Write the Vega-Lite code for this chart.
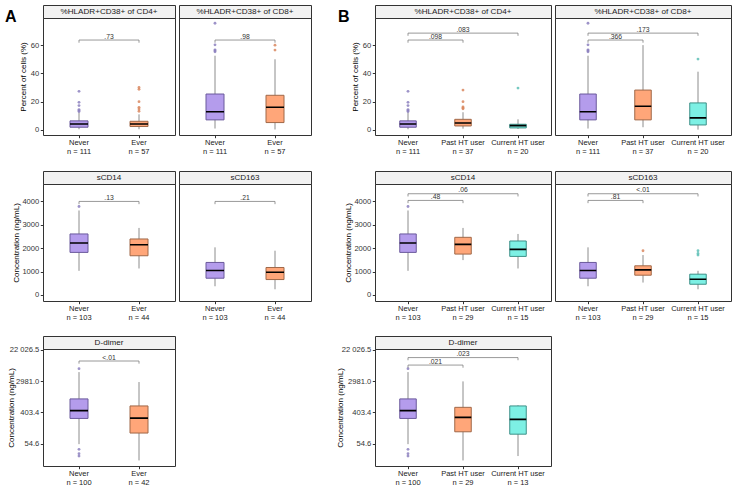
{
  "$schema": "https://vega.github.io/schema/vega-lite/v6.json",
  "padding": {"left": 4, "top": 4, "right": 5, "bottom": 2},
  "background": "white",
  "config": {
    "font": "Liberation Sans",
    "view": {"stroke": "#333333", "strokeWidth": 1},
    "axis": {"grid": false, "domain": false, "tickColor": "#333333", "tickSize": 2.7, "labelFontSize": 7.6, "labelColor": "#333333", "labelOverlap": false, "titleFontSize": 8, "titleFontWeight": "normal", "titleColor": "#000000", "labelPadding": 1.5, "titlePadding": 3},
    "axisX": {"labelFontSize": 7.5, "labelAngle": 0, "labelLineHeight": 9.3, "labelBaseline": "top", "labelPadding": 0.8, "labelColor": "#222222"},
    "title": {"fontSize": 16, "fontWeight": "bold", "color": "#000000"}
  },
  "datasets": {
    "boxes": [
      {"panel": "A_CD4", "group": "Never", "lo": 0.5, "q1": 1.9, "med": 4.2, "q3": 6.4, "hi": 12.5},
      {"panel": "A_CD4", "group": "Ever", "lo": 0.5, "q1": 2.4, "med": 4.2, "q3": 6.1, "hi": 11.0},
      {"panel": "A_CD8", "group": "Never", "lo": 1.0, "q1": 7.1, "med": 12.9, "q3": 25.4, "hi": 52.5},
      {"panel": "A_CD8", "group": "Ever", "lo": 0.3, "q1": 5.2, "med": 16.0, "q3": 24.5, "hi": 50.0},
      {"panel": "B_CD4", "group": "Never", "lo": 0.5, "q1": 1.9, "med": 4.2, "q3": 6.4, "hi": 12.5},
      {"panel": "B_CD4", "group": "Past HT user", "lo": 0.9, "q1": 2.8, "med": 4.9, "q3": 7.5, "hi": 12.5},
      {"panel": "B_CD4", "group": "Current HT user", "lo": 0.7, "q1": 1.4, "med": 3.0, "q3": 4.0, "hi": 7.5},
      {"panel": "B_CD8", "group": "Never", "lo": 1.0, "q1": 7.1, "med": 12.9, "q3": 25.4, "hi": 52.5},
      {"panel": "B_CD8", "group": "Past HT user", "lo": 1.9, "q1": 7.1, "med": 16.7, "q3": 28.2, "hi": 60.0},
      {"panel": "B_CD8", "group": "Current HT user", "lo": 0.2, "q1": 3.5, "med": 8.5, "q3": 19.1, "hi": 41.2},
      {"panel": "A_sCD14", "group": "Never", "lo": 1029, "q1": 1814, "med": 2214, "q3": 2600, "hi": 3600},
      {"panel": "A_sCD14", "group": "Ever", "lo": 1129, "q1": 1671, "med": 2143, "q3": 2386, "hi": 2857},
      {"panel": "A_sCD163", "group": "Never", "lo": 371, "q1": 714, "med": 1043, "q3": 1386, "hi": 2029},
      {"panel": "A_sCD163", "group": "Ever", "lo": 243, "q1": 657, "med": 971, "q3": 1171, "hi": 1886},
      {"panel": "B_sCD14", "group": "Never", "lo": 1029, "q1": 1814, "med": 2214, "q3": 2600, "hi": 3600},
      {"panel": "B_sCD14", "group": "Past HT user", "lo": 1486, "q1": 1743, "med": 2157, "q3": 2457, "hi": 2857},
      {"panel": "B_sCD14", "group": "Current HT user", "lo": 1129, "q1": 1643, "med": 1943, "q3": 2300, "hi": 2600},
      {"panel": "B_sCD163", "group": "Never", "lo": 371, "q1": 714, "med": 1043, "q3": 1386, "hi": 2029},
      {"panel": "B_sCD163", "group": "Past HT user", "lo": 529, "q1": 843, "med": 1071, "q3": 1243, "hi": 1700},
      {"panel": "B_sCD163", "group": "Current HT user", "lo": 243, "q1": 457, "med": 671, "q3": 886, "hi": 1029},
      {"panel": "A_DD", "group": "Never", "lo": 52.5, "q1": 273, "med": 450, "q3": 954, "hi": 5320},
      {"panel": "A_DD", "group": "Ever", "lo": 18.5, "q1": 107, "med": 279, "q3": 608, "hi": 2810},
      {"panel": "B_DD", "group": "Never", "lo": 52.5, "q1": 273, "med": 450, "q3": 954, "hi": 5320},
      {"panel": "B_DD", "group": "Past HT user", "lo": 18.5, "q1": 116, "med": 293, "q3": 556, "hi": 2930},
      {"panel": "B_DD", "group": "Current HT user", "lo": 24.5, "q1": 99.5, "med": 257, "q3": 608, "hi": 635}
    ],
    "outliers": [
      {"panel": "A_CD4", "group": "Never", "value": 27.3},
      {"panel": "A_CD4", "group": "Never", "value": 19.5},
      {"panel": "A_CD4", "group": "Never", "value": 17.2},
      {"panel": "A_CD4", "group": "Never", "value": 14.4},
      {"panel": "A_CD4", "group": "Never", "value": 13.7},
      {"panel": "A_CD4", "group": "Never", "value": 13.0},
      {"panel": "A_CD4", "group": "Ever", "value": 30.0},
      {"panel": "A_CD4", "group": "Ever", "value": 28.7},
      {"panel": "A_CD4", "group": "Ever", "value": 20.0},
      {"panel": "A_CD4", "group": "Ever", "value": 16.0},
      {"panel": "A_CD4", "group": "Ever", "value": 14.8},
      {"panel": "A_CD4", "group": "Ever", "value": 13.2},
      {"panel": "A_CD8", "group": "Never", "value": 75.5},
      {"panel": "A_CD8", "group": "Never", "value": 60.2},
      {"panel": "A_CD8", "group": "Never", "value": 56.7},
      {"panel": "A_CD8", "group": "Never", "value": 56.0},
      {"panel": "A_CD8", "group": "Never", "value": 55.3},
      {"panel": "A_CD8", "group": "Ever", "value": 60.0},
      {"panel": "A_CD8", "group": "Ever", "value": 56.5},
      {"panel": "B_CD4", "group": "Never", "value": 27.3},
      {"panel": "B_CD4", "group": "Never", "value": 19.5},
      {"panel": "B_CD4", "group": "Never", "value": 17.2},
      {"panel": "B_CD4", "group": "Never", "value": 14.4},
      {"panel": "B_CD4", "group": "Never", "value": 13.7},
      {"panel": "B_CD4", "group": "Never", "value": 13.0},
      {"panel": "B_CD4", "group": "Past HT user", "value": 28.2},
      {"panel": "B_CD4", "group": "Past HT user", "value": 20.0},
      {"panel": "B_CD4", "group": "Past HT user", "value": 16.2},
      {"panel": "B_CD4", "group": "Past HT user", "value": 15.5},
      {"panel": "B_CD4", "group": "Past HT user", "value": 15.0},
      {"panel": "B_CD4", "group": "Current HT user", "value": 29.6},
      {"panel": "B_CD8", "group": "Never", "value": 75.5},
      {"panel": "B_CD8", "group": "Never", "value": 60.2},
      {"panel": "B_CD8", "group": "Never", "value": 56.7},
      {"panel": "B_CD8", "group": "Never", "value": 56.0},
      {"panel": "B_CD8", "group": "Never", "value": 55.3},
      {"panel": "B_CD8", "group": "Current HT user", "value": 50.1},
      {"panel": "A_sCD14", "group": "Never", "value": 3771},
      {"panel": "B_sCD14", "group": "Never", "value": 3771},
      {"panel": "B_sCD163", "group": "Past HT user", "value": 1886},
      {"panel": "B_sCD163", "group": "Current HT user", "value": 1886},
      {"panel": "B_sCD163", "group": "Current HT user", "value": 1771},
      {"panel": "B_sCD163", "group": "Current HT user", "value": 1700},
      {"panel": "A_DD", "group": "Never", "value": 6634},
      {"panel": "A_DD", "group": "Never", "value": 37.7},
      {"panel": "A_DD", "group": "Never", "value": 28.5},
      {"panel": "A_DD", "group": "Never", "value": 24.5},
      {"panel": "B_DD", "group": "Never", "value": 6634},
      {"panel": "B_DD", "group": "Never", "value": 37.7},
      {"panel": "B_DD", "group": "Never", "value": 28.5},
      {"panel": "B_DD", "group": "Never", "value": 24.5}
    ],
    "brackets": [
      {"panel": "A_CD4", "group": "Never", "group2": "Ever", "mid": "m1", "y": 63.6, "ytip": 61.7, "label": ".73"},
      {"panel": "A_CD8", "group": "Never", "group2": "Ever", "mid": "m1", "y": 63.6, "ytip": 61.7, "label": ".98"},
      {"panel": "B_CD4", "group": "Never", "group2": "Past HT user", "mid": "m1", "y": 63.6, "ytip": 61.7, "label": ".098"},
      {"panel": "B_CD4", "group": "Never", "group2": "Current HT user", "mid": "Past HT user", "y": 68.5, "ytip": 66.6, "label": ".083"},
      {"panel": "B_CD8", "group": "Never", "group2": "Past HT user", "mid": "m1", "y": 63.6, "ytip": 61.7, "label": ".366"},
      {"panel": "B_CD8", "group": "Never", "group2": "Current HT user", "mid": "Past HT user", "y": 68.5, "ytip": 66.6, "label": ".173"},
      {"panel": "A_sCD14", "group": "Never", "group2": "Ever", "mid": "m1", "y": 3986, "ytip": 3870, "label": ".13"},
      {"panel": "A_sCD163", "group": "Never", "group2": "Ever", "mid": "m1", "y": 3986, "ytip": 3870, "label": ".21"},
      {"panel": "B_sCD14", "group": "Never", "group2": "Past HT user", "mid": "m1", "y": 4029, "ytip": 3913, "label": ".48"},
      {"panel": "B_sCD14", "group": "Never", "group2": "Current HT user", "mid": "Past HT user", "y": 4314, "ytip": 4198, "label": ".06"},
      {"panel": "B_sCD163", "group": "Never", "group2": "Past HT user", "mid": "m1", "y": 4029, "ytip": 3913, "label": ".81"},
      {"panel": "B_sCD163", "group": "Never", "group2": "Current HT user", "mid": "Past HT user", "y": 4314, "ytip": 4198, "label": "<.01"},
      {"panel": "A_DD", "group": "Never", "group2": "Ever", "mid": "m1", "y": 10830, "ytip": 9140, "label": "<.01"},
      {"panel": "B_DD", "group": "Never", "group2": "Past HT user", "mid": "m1", "y": 8350, "ytip": 7040, "label": ".021"},
      {"panel": "B_DD", "group": "Never", "group2": "Current HT user", "mid": "Past HT user", "y": 13490, "ytip": 11380, "label": ".023"}
    ]
  },
  "columns": 5,
  "spacing": {"row": 0, "column": 4},
  "align": "each",
  "bounds": "flush",
  "concat": [
    {"width": 132, "height": 13, "data": {"values": [{"label": "%HLADR+CD38+ of CD4+"}]}, "mark": {"type": "text", "fontSize": 8.1, "color": "#1A1A1A"}, "encoding": {"text": {"field": "label"}}, "view": {"fill": "#F2F2F2", "stroke": "#333333"},
     "title": {"text": "A", "anchor": "start", "frame": "group", "orient": "top", "offset": 0, "dx": -38, "dy": 33, "baseline": "alphabetic"}},
    {"width": 132, "height": 13, "data": {"values": [{"label": "%HLADR+CD38+ of CD8+"}]}, "mark": {"type": "text", "fontSize": 8.1, "color": "#1A1A1A"}, "encoding": {"text": {"field": "label"}}, "view": {"fill": "#F2F2F2", "stroke": "#333333"}},
    {"width": 56, "height": 1, "data": {"values": []}, "mark": "point", "view": {"stroke": null}},
    {"width": 176, "height": 13, "data": {"values": [{"label": "%HLADR+CD38+ of CD4+"}]}, "mark": {"type": "text", "fontSize": 8.1, "color": "#1A1A1A"}, "encoding": {"text": {"field": "label"}}, "view": {"fill": "#F2F2F2", "stroke": "#333333"},
     "title": {"text": "B", "anchor": "start", "frame": "group", "orient": "top", "offset": 0, "dx": -37, "dy": 33, "baseline": "alphabetic"}},
    {"width": 176, "height": 13, "data": {"values": [{"label": "%HLADR+CD38+ of CD8+"}]}, "mark": {"type": "text", "fontSize": 8.1, "color": "#1A1A1A"}, "encoding": {"text": {"field": "label"}}, "view": {"fill": "#F2F2F2", "stroke": "#333333"}},

    {"width": 132, "height": 117, "layer": [
      {"data": {"name": "boxes"}, "transform": [{"filter": "datum.panel == 'A_CD4'"}], "mark": {"type": "rule", "color": "#7F7F7F", "strokeWidth": 0.9},
       "encoding": {"x": {"field": "group", "type": "nominal", "title": null, "scale": {"domain": ["Never", "m1", "Ever"], "paddingInner": 0.4, "paddingOuter": 0.9}, "axis": {"values": ["Never", "Ever"], "labelExpr": "[datum.value, datum.value == 'Never' ? 'n = 111' : 'n = 57']"}},
                    "y": {"field": "lo", "type": "quantitative", "title": "Percent of cells (%)", "scale": {"domain": [-3.6, 79.2], "nice": false, "zero": false}, "axis": {"values": [0, 20, 40, 60], "labelOverlap": false, "tickCount": 4}}, "y2": {"field": "hi"}}},
      {"data": {"name": "boxes"}, "transform": [{"filter": "datum.panel == 'A_CD4'"}], "mark": {"type": "bar", "strokeWidth": 1},
       "encoding": {"x": {"field": "group", "type": "nominal", "title": null}, "y": {"field": "q1", "type": "quantitative"}, "y2": {"field": "q3"},
                    "fill": {"field": "group", "type": "nominal", "legend": null, "scale": {"domain": ["Never", "Ever", "Past HT user", "Current HT user"], "range": ["#B49CEC", "#FFA679", "#FFA679", "#7DF0E4"]}},
                    "stroke": {"field": "group", "type": "nominal", "legend": null, "scale": {"domain": ["Never", "Ever", "Past HT user", "Current HT user"], "range": ["#6B5A9C", "#A06848", "#A06848", "#3E9088"]}}}},
      {"data": {"name": "boxes"}, "transform": [{"filter": "datum.panel == 'A_CD4'"}], "mark": {"type": "bar", "fillOpacity": 0, "stroke": "#000000", "strokeWidth": 1.6},
       "encoding": {"x": {"field": "group", "type": "nominal", "title": null}, "y": {"field": "med", "type": "quantitative"}, "y2": {"field": "med"}}},
      {"data": {"name": "outliers"}, "transform": [{"filter": "datum.panel == 'A_CD4'"}], "mark": {"type": "point", "filled": true, "size": 8, "opacity": 0.85},
       "encoding": {"x": {"field": "group", "type": "nominal", "title": null}, "y": {"field": "value", "type": "quantitative"},
                    "color": {"field": "group", "type": "nominal", "legend": null, "scale": {"domain": ["Never", "Ever", "Past HT user", "Current HT user"], "range": ["#8C80BE", "#D9875F", "#D9875F", "#5EC0B6"]}}}},
      {"data": {"name": "brackets"}, "transform": [{"filter": "datum.panel == 'A_CD4'"}], "mark": {"type": "rule", "color": "#7F7F7F", "strokeWidth": 0.8},
       "encoding": {"x": {"field": "group", "type": "nominal", "title": null}, "x2": {"field": "group2"}, "y": {"field": "y", "type": "quantitative"}}},
      {"data": {"name": "brackets"}, "transform": [{"filter": "datum.panel == 'A_CD4'"}], "mark": {"type": "rule", "color": "#7F7F7F", "strokeWidth": 0.8},
       "encoding": {"x": {"field": "group", "type": "nominal", "title": null}, "y": {"field": "y", "type": "quantitative"}, "y2": {"field": "ytip"}}},
      {"data": {"name": "brackets"}, "transform": [{"filter": "datum.panel == 'A_CD4'"}], "mark": {"type": "rule", "color": "#7F7F7F", "strokeWidth": 0.8},
       "encoding": {"x": {"field": "group2", "type": "nominal", "title": null}, "y": {"field": "y", "type": "quantitative"}, "y2": {"field": "ytip"}}},
      {"data": {"name": "brackets"}, "transform": [{"filter": "datum.panel == 'A_CD4'"}], "mark": {"type": "text", "fontSize": 6.8, "color": "#333333", "baseline": "bottom", "dy": -0.5},
       "encoding": {"x": {"field": "mid", "type": "nominal", "title": null}, "y": {"field": "y", "type": "quantitative"}, "text": {"field": "label"}}}
    ]},
    {"width": 132, "height": 117, "layer": [
      {"data": {"name": "boxes"}, "transform": [{"filter": "datum.panel == 'A_CD8'"}], "mark": {"type": "rule", "color": "#7F7F7F", "strokeWidth": 0.9},
       "encoding": {"x": {"field": "group", "type": "nominal", "title": null, "scale": {"domain": ["Never", "m1", "Ever"], "paddingInner": 0.4, "paddingOuter": 0.9}, "axis": {"values": ["Never", "Ever"], "labelExpr": "[datum.value, datum.value == 'Never' ? 'n = 111' : 'n = 57']"}},
                    "y": {"field": "lo", "type": "quantitative", "scale": {"domain": [-3.6, 79.2], "nice": false, "zero": false}, "axis": null}, "y2": {"field": "hi"}}},
      {"data": {"name": "boxes"}, "transform": [{"filter": "datum.panel == 'A_CD8'"}], "mark": {"type": "bar", "strokeWidth": 1},
       "encoding": {"x": {"field": "group", "type": "nominal", "title": null}, "y": {"field": "q1", "type": "quantitative", "axis": null}, "y2": {"field": "q3"},
                    "fill": {"field": "group", "type": "nominal", "legend": null, "scale": {"domain": ["Never", "Ever", "Past HT user", "Current HT user"], "range": ["#B49CEC", "#FFA679", "#FFA679", "#7DF0E4"]}},
                    "stroke": {"field": "group", "type": "nominal", "legend": null, "scale": {"domain": ["Never", "Ever", "Past HT user", "Current HT user"], "range": ["#6B5A9C", "#A06848", "#A06848", "#3E9088"]}}}},
      {"data": {"name": "boxes"}, "transform": [{"filter": "datum.panel == 'A_CD8'"}], "mark": {"type": "bar", "fillOpacity": 0, "stroke": "#000000", "strokeWidth": 1.6},
       "encoding": {"x": {"field": "group", "type": "nominal", "title": null}, "y": {"field": "med", "type": "quantitative", "axis": null}, "y2": {"field": "med"}}},
      {"data": {"name": "outliers"}, "transform": [{"filter": "datum.panel == 'A_CD8'"}], "mark": {"type": "point", "filled": true, "size": 8, "opacity": 0.85},
       "encoding": {"x": {"field": "group", "type": "nominal", "title": null}, "y": {"field": "value", "type": "quantitative", "axis": null},
                    "color": {"field": "group", "type": "nominal", "legend": null, "scale": {"domain": ["Never", "Ever", "Past HT user", "Current HT user"], "range": ["#8C80BE", "#D9875F", "#D9875F", "#5EC0B6"]}}}},
      {"data": {"name": "brackets"}, "transform": [{"filter": "datum.panel == 'A_CD8'"}], "mark": {"type": "rule", "color": "#7F7F7F", "strokeWidth": 0.8},
       "encoding": {"x": {"field": "group", "type": "nominal", "title": null}, "x2": {"field": "group2"}, "y": {"field": "y", "type": "quantitative", "axis": null}}},
      {"data": {"name": "brackets"}, "transform": [{"filter": "datum.panel == 'A_CD8'"}], "mark": {"type": "rule", "color": "#7F7F7F", "strokeWidth": 0.8},
       "encoding": {"x": {"field": "group", "type": "nominal", "title": null}, "y": {"field": "y", "type": "quantitative", "axis": null}, "y2": {"field": "ytip"}}},
      {"data": {"name": "brackets"}, "transform": [{"filter": "datum.panel == 'A_CD8'"}], "mark": {"type": "rule", "color": "#7F7F7F", "strokeWidth": 0.8},
       "encoding": {"x": {"field": "group2", "type": "nominal", "title": null}, "y": {"field": "y", "type": "quantitative", "axis": null}, "y2": {"field": "ytip"}}},
      {"data": {"name": "brackets"}, "transform": [{"filter": "datum.panel == 'A_CD8'"}], "mark": {"type": "text", "fontSize": 6.8, "color": "#333333", "baseline": "bottom", "dy": -0.5},
       "encoding": {"x": {"field": "mid", "type": "nominal", "title": null}, "y": {"field": "y", "type": "quantitative", "axis": null}, "text": {"field": "label"}}}
    ]},
    {"width": 1, "height": 1, "data": {"values": []}, "mark": "point", "view": {"stroke": null}},
    {"width": 176, "height": 117, "layer": [
      {"data": {"name": "boxes"}, "transform": [{"filter": "datum.panel == 'B_CD4'"}], "mark": {"type": "rule", "color": "#7F7F7F", "strokeWidth": 0.9},
       "encoding": {"x": {"field": "group", "type": "nominal", "title": null, "scale": {"domain": ["Never", "m1", "Past HT user", "m2", "Current HT user"], "paddingInner": 0.4, "paddingOuter": 0.9}, "axis": {"values": ["Never", "Past HT user", "Current HT user"], "labelExpr": "[datum.value, datum.value == 'Never' ? 'n = 111' : datum.value == 'Past HT user' ? 'n = 37' : 'n = 20']"}},
                    "y": {"field": "lo", "type": "quantitative", "title": "Percent of cells (%)", "scale": {"domain": [-3.6, 79.2], "nice": false, "zero": false}, "axis": {"values": [0, 20, 40, 60], "labelOverlap": false, "tickCount": 4}}, "y2": {"field": "hi"}}},
      {"data": {"name": "boxes"}, "transform": [{"filter": "datum.panel == 'B_CD4'"}], "mark": {"type": "bar", "strokeWidth": 1},
       "encoding": {"x": {"field": "group", "type": "nominal", "title": null}, "y": {"field": "q1", "type": "quantitative"}, "y2": {"field": "q3"},
                    "fill": {"field": "group", "type": "nominal", "legend": null, "scale": {"domain": ["Never", "Ever", "Past HT user", "Current HT user"], "range": ["#B49CEC", "#FFA679", "#FFA679", "#7DF0E4"]}},
                    "stroke": {"field": "group", "type": "nominal", "legend": null, "scale": {"domain": ["Never", "Ever", "Past HT user", "Current HT user"], "range": ["#6B5A9C", "#A06848", "#A06848", "#3E9088"]}}}},
      {"data": {"name": "boxes"}, "transform": [{"filter": "datum.panel == 'B_CD4'"}], "mark": {"type": "bar", "fillOpacity": 0, "stroke": "#000000", "strokeWidth": 1.6},
       "encoding": {"x": {"field": "group", "type": "nominal", "title": null}, "y": {"field": "med", "type": "quantitative"}, "y2": {"field": "med"}}},
      {"data": {"name": "outliers"}, "transform": [{"filter": "datum.panel == 'B_CD4'"}], "mark": {"type": "point", "filled": true, "size": 8, "opacity": 0.85},
       "encoding": {"x": {"field": "group", "type": "nominal", "title": null}, "y": {"field": "value", "type": "quantitative"},
                    "color": {"field": "group", "type": "nominal", "legend": null, "scale": {"domain": ["Never", "Ever", "Past HT user", "Current HT user"], "range": ["#8C80BE", "#D9875F", "#D9875F", "#5EC0B6"]}}}},
      {"data": {"name": "brackets"}, "transform": [{"filter": "datum.panel == 'B_CD4'"}], "mark": {"type": "rule", "color": "#7F7F7F", "strokeWidth": 0.8},
       "encoding": {"x": {"field": "group", "type": "nominal", "title": null}, "x2": {"field": "group2"}, "y": {"field": "y", "type": "quantitative"}}},
      {"data": {"name": "brackets"}, "transform": [{"filter": "datum.panel == 'B_CD4'"}], "mark": {"type": "rule", "color": "#7F7F7F", "strokeWidth": 0.8},
       "encoding": {"x": {"field": "group", "type": "nominal", "title": null}, "y": {"field": "y", "type": "quantitative"}, "y2": {"field": "ytip"}}},
      {"data": {"name": "brackets"}, "transform": [{"filter": "datum.panel == 'B_CD4'"}], "mark": {"type": "rule", "color": "#7F7F7F", "strokeWidth": 0.8},
       "encoding": {"x": {"field": "group2", "type": "nominal", "title": null}, "y": {"field": "y", "type": "quantitative"}, "y2": {"field": "ytip"}}},
      {"data": {"name": "brackets"}, "transform": [{"filter": "datum.panel == 'B_CD4'"}], "mark": {"type": "text", "fontSize": 6.8, "color": "#333333", "baseline": "bottom", "dy": -0.5},
       "encoding": {"x": {"field": "mid", "type": "nominal", "title": null}, "y": {"field": "y", "type": "quantitative"}, "text": {"field": "label"}}}
    ]},
    {"width": 176, "height": 117, "layer": [
      {"data": {"name": "boxes"}, "transform": [{"filter": "datum.panel == 'B_CD8'"}], "mark": {"type": "rule", "color": "#7F7F7F", "strokeWidth": 0.9},
       "encoding": {"x": {"field": "group", "type": "nominal", "title": null, "scale": {"domain": ["Never", "m1", "Past HT user", "m2", "Current HT user"], "paddingInner": 0.4, "paddingOuter": 0.9}, "axis": {"values": ["Never", "Past HT user", "Current HT user"], "labelExpr": "[datum.value, datum.value == 'Never' ? 'n = 111' : datum.value == 'Past HT user' ? 'n = 37' : 'n = 20']"}},
                    "y": {"field": "lo", "type": "quantitative", "scale": {"domain": [-3.6, 79.2], "nice": false, "zero": false}, "axis": null}, "y2": {"field": "hi"}}},
      {"data": {"name": "boxes"}, "transform": [{"filter": "datum.panel == 'B_CD8'"}], "mark": {"type": "bar", "strokeWidth": 1},
       "encoding": {"x": {"field": "group", "type": "nominal", "title": null}, "y": {"field": "q1", "type": "quantitative", "axis": null}, "y2": {"field": "q3"},
                    "fill": {"field": "group", "type": "nominal", "legend": null, "scale": {"domain": ["Never", "Ever", "Past HT user", "Current HT user"], "range": ["#B49CEC", "#FFA679", "#FFA679", "#7DF0E4"]}},
                    "stroke": {"field": "group", "type": "nominal", "legend": null, "scale": {"domain": ["Never", "Ever", "Past HT user", "Current HT user"], "range": ["#6B5A9C", "#A06848", "#A06848", "#3E9088"]}}}},
      {"data": {"name": "boxes"}, "transform": [{"filter": "datum.panel == 'B_CD8'"}], "mark": {"type": "bar", "fillOpacity": 0, "stroke": "#000000", "strokeWidth": 1.6},
       "encoding": {"x": {"field": "group", "type": "nominal", "title": null}, "y": {"field": "med", "type": "quantitative", "axis": null}, "y2": {"field": "med"}}},
      {"data": {"name": "outliers"}, "transform": [{"filter": "datum.panel == 'B_CD8'"}], "mark": {"type": "point", "filled": true, "size": 8, "opacity": 0.85},
       "encoding": {"x": {"field": "group", "type": "nominal", "title": null}, "y": {"field": "value", "type": "quantitative", "axis": null},
                    "color": {"field": "group", "type": "nominal", "legend": null, "scale": {"domain": ["Never", "Ever", "Past HT user", "Current HT user"], "range": ["#8C80BE", "#D9875F", "#D9875F", "#5EC0B6"]}}}},
      {"data": {"name": "brackets"}, "transform": [{"filter": "datum.panel == 'B_CD8'"}], "mark": {"type": "rule", "color": "#7F7F7F", "strokeWidth": 0.8},
       "encoding": {"x": {"field": "group", "type": "nominal", "title": null}, "x2": {"field": "group2"}, "y": {"field": "y", "type": "quantitative", "axis": null}}},
      {"data": {"name": "brackets"}, "transform": [{"filter": "datum.panel == 'B_CD8'"}], "mark": {"type": "rule", "color": "#7F7F7F", "strokeWidth": 0.8},
       "encoding": {"x": {"field": "group", "type": "nominal", "title": null}, "y": {"field": "y", "type": "quantitative", "axis": null}, "y2": {"field": "ytip"}}},
      {"data": {"name": "brackets"}, "transform": [{"filter": "datum.panel == 'B_CD8'"}], "mark": {"type": "rule", "color": "#7F7F7F", "strokeWidth": 0.8},
       "encoding": {"x": {"field": "group2", "type": "nominal", "title": null}, "y": {"field": "y", "type": "quantitative", "axis": null}, "y2": {"field": "ytip"}}},
      {"data": {"name": "brackets"}, "transform": [{"filter": "datum.panel == 'B_CD8'"}], "mark": {"type": "text", "fontSize": 6.8, "color": "#333333", "baseline": "bottom", "dy": -0.5},
       "encoding": {"x": {"field": "mid", "type": "nominal", "title": null}, "y": {"field": "y", "type": "quantitative", "axis": null}, "text": {"field": "label"}}}
    ]},

    {"width": 1, "height": 36, "data": {"values": []}, "mark": "point", "view": {"stroke": null}},
    {"width": 1, "height": 1, "data": {"values": []}, "mark": "point", "view": {"stroke": null}},
    {"width": 1, "height": 1, "data": {"values": []}, "mark": "point", "view": {"stroke": null}},
    {"width": 1, "height": 1, "data": {"values": []}, "mark": "point", "view": {"stroke": null}},
    {"width": 1, "height": 1, "data": {"values": []}, "mark": "point", "view": {"stroke": null}},

    {"width": 132, "height": 13, "data": {"values": [{"label": "sCD14"}]}, "mark": {"type": "text", "fontSize": 8.1, "color": "#1A1A1A"}, "encoding": {"text": {"field": "label"}}, "view": {"fill": "#F2F2F2", "stroke": "#333333"}},
    {"width": 132, "height": 13, "data": {"values": [{"label": "sCD163"}]}, "mark": {"type": "text", "fontSize": 8.1, "color": "#1A1A1A"}, "encoding": {"text": {"field": "label"}}, "view": {"fill": "#F2F2F2", "stroke": "#333333"}},
    {"width": 1, "height": 1, "data": {"values": []}, "mark": "point", "view": {"stroke": null}},
    {"width": 176, "height": 13, "data": {"values": [{"label": "sCD14"}]}, "mark": {"type": "text", "fontSize": 8.1, "color": "#1A1A1A"}, "encoding": {"text": {"field": "label"}}, "view": {"fill": "#F2F2F2", "stroke": "#333333"}},
    {"width": 176, "height": 13, "data": {"values": [{"label": "sCD163"}]}, "mark": {"type": "text", "fontSize": 8.1, "color": "#1A1A1A"}, "encoding": {"text": {"field": "label"}}, "view": {"fill": "#F2F2F2", "stroke": "#333333"}},

    {"width": 132, "height": 117, "layer": [
      {"data": {"name": "boxes"}, "transform": [{"filter": "datum.panel == 'A_sCD14'"}], "mark": {"type": "rule", "color": "#7F7F7F", "strokeWidth": 0.9},
       "encoding": {"x": {"field": "group", "type": "nominal", "title": null, "scale": {"domain": ["Never", "m1", "Ever"], "paddingInner": 0.4, "paddingOuter": 0.9}, "axis": {"values": ["Never", "Ever"], "labelExpr": "[datum.value, datum.value == 'Never' ? 'n = 103' : 'n = 44']"}},
                    "y": {"field": "lo", "type": "quantitative", "title": "Concentration (ng/mL)", "scale": {"domain": [-257, 4729], "nice": false, "zero": false}, "axis": {"values": [0, 1000, 2000, 3000, 4000], "format": "d", "labelOverlap": false, "tickCount": 5, "titleX": -23, "titleY": 58.5}}, "y2": {"field": "hi"}}},
      {"data": {"name": "boxes"}, "transform": [{"filter": "datum.panel == 'A_sCD14'"}], "mark": {"type": "bar", "strokeWidth": 1},
       "encoding": {"x": {"field": "group", "type": "nominal", "title": null}, "y": {"field": "q1", "type": "quantitative"}, "y2": {"field": "q3"},
                    "fill": {"field": "group", "type": "nominal", "legend": null, "scale": {"domain": ["Never", "Ever", "Past HT user", "Current HT user"], "range": ["#B49CEC", "#FFA679", "#FFA679", "#7DF0E4"]}},
                    "stroke": {"field": "group", "type": "nominal", "legend": null, "scale": {"domain": ["Never", "Ever", "Past HT user", "Current HT user"], "range": ["#6B5A9C", "#A06848", "#A06848", "#3E9088"]}}}},
      {"data": {"name": "boxes"}, "transform": [{"filter": "datum.panel == 'A_sCD14'"}], "mark": {"type": "bar", "fillOpacity": 0, "stroke": "#000000", "strokeWidth": 1.6},
       "encoding": {"x": {"field": "group", "type": "nominal", "title": null}, "y": {"field": "med", "type": "quantitative"}, "y2": {"field": "med"}}},
      {"data": {"name": "outliers"}, "transform": [{"filter": "datum.panel == 'A_sCD14'"}], "mark": {"type": "point", "filled": true, "size": 8, "opacity": 0.85},
       "encoding": {"x": {"field": "group", "type": "nominal", "title": null}, "y": {"field": "value", "type": "quantitative"},
                    "color": {"field": "group", "type": "nominal", "legend": null, "scale": {"domain": ["Never", "Ever", "Past HT user", "Current HT user"], "range": ["#8C80BE", "#D9875F", "#D9875F", "#5EC0B6"]}}}},
      {"data": {"name": "brackets"}, "transform": [{"filter": "datum.panel == 'A_sCD14'"}], "mark": {"type": "rule", "color": "#7F7F7F", "strokeWidth": 0.8},
       "encoding": {"x": {"field": "group", "type": "nominal", "title": null}, "x2": {"field": "group2"}, "y": {"field": "y", "type": "quantitative"}}},
      {"data": {"name": "brackets"}, "transform": [{"filter": "datum.panel == 'A_sCD14'"}], "mark": {"type": "rule", "color": "#7F7F7F", "strokeWidth": 0.8},
       "encoding": {"x": {"field": "group", "type": "nominal", "title": null}, "y": {"field": "y", "type": "quantitative"}, "y2": {"field": "ytip"}}},
      {"data": {"name": "brackets"}, "transform": [{"filter": "datum.panel == 'A_sCD14'"}], "mark": {"type": "rule", "color": "#7F7F7F", "strokeWidth": 0.8},
       "encoding": {"x": {"field": "group2", "type": "nominal", "title": null}, "y": {"field": "y", "type": "quantitative"}, "y2": {"field": "ytip"}}},
      {"data": {"name": "brackets"}, "transform": [{"filter": "datum.panel == 'A_sCD14'"}], "mark": {"type": "text", "fontSize": 6.8, "color": "#333333", "baseline": "bottom", "dy": -0.5},
       "encoding": {"x": {"field": "mid", "type": "nominal", "title": null}, "y": {"field": "y", "type": "quantitative"}, "text": {"field": "label"}}}
    ]},
    {"width": 132, "height": 117, "layer": [
      {"data": {"name": "boxes"}, "transform": [{"filter": "datum.panel == 'A_sCD163'"}], "mark": {"type": "rule", "color": "#7F7F7F", "strokeWidth": 0.9},
       "encoding": {"x": {"field": "group", "type": "nominal", "title": null, "scale": {"domain": ["Never", "m1", "Ever"], "paddingInner": 0.4, "paddingOuter": 0.9}, "axis": {"values": ["Never", "Ever"], "labelExpr": "[datum.value, datum.value == 'Never' ? 'n = 103' : 'n = 44']"}},
                    "y": {"field": "lo", "type": "quantitative", "scale": {"domain": [-257, 4729], "nice": false, "zero": false}, "axis": null}, "y2": {"field": "hi"}}},
      {"data": {"name": "boxes"}, "transform": [{"filter": "datum.panel == 'A_sCD163'"}], "mark": {"type": "bar", "strokeWidth": 1},
       "encoding": {"x": {"field": "group", "type": "nominal", "title": null}, "y": {"field": "q1", "type": "quantitative", "axis": null}, "y2": {"field": "q3"},
                    "fill": {"field": "group", "type": "nominal", "legend": null, "scale": {"domain": ["Never", "Ever", "Past HT user", "Current HT user"], "range": ["#B49CEC", "#FFA679", "#FFA679", "#7DF0E4"]}},
                    "stroke": {"field": "group", "type": "nominal", "legend": null, "scale": {"domain": ["Never", "Ever", "Past HT user", "Current HT user"], "range": ["#6B5A9C", "#A06848", "#A06848", "#3E9088"]}}}},
      {"data": {"name": "boxes"}, "transform": [{"filter": "datum.panel == 'A_sCD163'"}], "mark": {"type": "bar", "fillOpacity": 0, "stroke": "#000000", "strokeWidth": 1.6},
       "encoding": {"x": {"field": "group", "type": "nominal", "title": null}, "y": {"field": "med", "type": "quantitative", "axis": null}, "y2": {"field": "med"}}},
      {"data": {"name": "brackets"}, "transform": [{"filter": "datum.panel == 'A_sCD163'"}], "mark": {"type": "rule", "color": "#7F7F7F", "strokeWidth": 0.8},
       "encoding": {"x": {"field": "group", "type": "nominal", "title": null}, "x2": {"field": "group2"}, "y": {"field": "y", "type": "quantitative", "axis": null}}},
      {"data": {"name": "brackets"}, "transform": [{"filter": "datum.panel == 'A_sCD163'"}], "mark": {"type": "rule", "color": "#7F7F7F", "strokeWidth": 0.8},
       "encoding": {"x": {"field": "group", "type": "nominal", "title": null}, "y": {"field": "y", "type": "quantitative", "axis": null}, "y2": {"field": "ytip"}}},
      {"data": {"name": "brackets"}, "transform": [{"filter": "datum.panel == 'A_sCD163'"}], "mark": {"type": "rule", "color": "#7F7F7F", "strokeWidth": 0.8},
       "encoding": {"x": {"field": "group2", "type": "nominal", "title": null}, "y": {"field": "y", "type": "quantitative", "axis": null}, "y2": {"field": "ytip"}}},
      {"data": {"name": "brackets"}, "transform": [{"filter": "datum.panel == 'A_sCD163'"}], "mark": {"type": "text", "fontSize": 6.8, "color": "#333333", "baseline": "bottom", "dy": -0.5},
       "encoding": {"x": {"field": "mid", "type": "nominal", "title": null}, "y": {"field": "y", "type": "quantitative", "axis": null}, "text": {"field": "label"}}}
    ]},
    {"width": 1, "height": 1, "data": {"values": []}, "mark": "point", "view": {"stroke": null}},
    {"width": 176, "height": 117, "layer": [
      {"data": {"name": "boxes"}, "transform": [{"filter": "datum.panel == 'B_sCD14'"}], "mark": {"type": "rule", "color": "#7F7F7F", "strokeWidth": 0.9},
       "encoding": {"x": {"field": "group", "type": "nominal", "title": null, "scale": {"domain": ["Never", "m1", "Past HT user", "m2", "Current HT user"], "paddingInner": 0.4, "paddingOuter": 0.9}, "axis": {"values": ["Never", "Past HT user", "Current HT user"], "labelExpr": "[datum.value, datum.value == 'Never' ? 'n = 103' : datum.value == 'Past HT user' ? 'n = 29' : 'n = 15']"}},
                    "y": {"field": "lo", "type": "quantitative", "title": "Concentration (ng/mL)", "scale": {"domain": [-257, 4729], "nice": false, "zero": false}, "axis": {"values": [0, 1000, 2000, 3000, 4000], "format": "d", "labelOverlap": false, "tickCount": 5, "titleX": -23, "titleY": 58.5}}, "y2": {"field": "hi"}}},
      {"data": {"name": "boxes"}, "transform": [{"filter": "datum.panel == 'B_sCD14'"}], "mark": {"type": "bar", "strokeWidth": 1},
       "encoding": {"x": {"field": "group", "type": "nominal", "title": null}, "y": {"field": "q1", "type": "quantitative"}, "y2": {"field": "q3"},
                    "fill": {"field": "group", "type": "nominal", "legend": null, "scale": {"domain": ["Never", "Ever", "Past HT user", "Current HT user"], "range": ["#B49CEC", "#FFA679", "#FFA679", "#7DF0E4"]}},
                    "stroke": {"field": "group", "type": "nominal", "legend": null, "scale": {"domain": ["Never", "Ever", "Past HT user", "Current HT user"], "range": ["#6B5A9C", "#A06848", "#A06848", "#3E9088"]}}}},
      {"data": {"name": "boxes"}, "transform": [{"filter": "datum.panel == 'B_sCD14'"}], "mark": {"type": "bar", "fillOpacity": 0, "stroke": "#000000", "strokeWidth": 1.6},
       "encoding": {"x": {"field": "group", "type": "nominal", "title": null}, "y": {"field": "med", "type": "quantitative"}, "y2": {"field": "med"}}},
      {"data": {"name": "outliers"}, "transform": [{"filter": "datum.panel == 'B_sCD14'"}], "mark": {"type": "point", "filled": true, "size": 8, "opacity": 0.85},
       "encoding": {"x": {"field": "group", "type": "nominal", "title": null}, "y": {"field": "value", "type": "quantitative"},
                    "color": {"field": "group", "type": "nominal", "legend": null, "scale": {"domain": ["Never", "Ever", "Past HT user", "Current HT user"], "range": ["#8C80BE", "#D9875F", "#D9875F", "#5EC0B6"]}}}},
      {"data": {"name": "brackets"}, "transform": [{"filter": "datum.panel == 'B_sCD14'"}], "mark": {"type": "rule", "color": "#7F7F7F", "strokeWidth": 0.8},
       "encoding": {"x": {"field": "group", "type": "nominal", "title": null}, "x2": {"field": "group2"}, "y": {"field": "y", "type": "quantitative"}}},
      {"data": {"name": "brackets"}, "transform": [{"filter": "datum.panel == 'B_sCD14'"}], "mark": {"type": "rule", "color": "#7F7F7F", "strokeWidth": 0.8},
       "encoding": {"x": {"field": "group", "type": "nominal", "title": null}, "y": {"field": "y", "type": "quantitative"}, "y2": {"field": "ytip"}}},
      {"data": {"name": "brackets"}, "transform": [{"filter": "datum.panel == 'B_sCD14'"}], "mark": {"type": "rule", "color": "#7F7F7F", "strokeWidth": 0.8},
       "encoding": {"x": {"field": "group2", "type": "nominal", "title": null}, "y": {"field": "y", "type": "quantitative"}, "y2": {"field": "ytip"}}},
      {"data": {"name": "brackets"}, "transform": [{"filter": "datum.panel == 'B_sCD14'"}], "mark": {"type": "text", "fontSize": 6.8, "color": "#333333", "baseline": "bottom", "dy": -0.5},
       "encoding": {"x": {"field": "mid", "type": "nominal", "title": null}, "y": {"field": "y", "type": "quantitative"}, "text": {"field": "label"}}}
    ]},
    {"width": 176, "height": 117, "layer": [
      {"data": {"name": "boxes"}, "transform": [{"filter": "datum.panel == 'B_sCD163'"}], "mark": {"type": "rule", "color": "#7F7F7F", "strokeWidth": 0.9},
       "encoding": {"x": {"field": "group", "type": "nominal", "title": null, "scale": {"domain": ["Never", "m1", "Past HT user", "m2", "Current HT user"], "paddingInner": 0.4, "paddingOuter": 0.9}, "axis": {"values": ["Never", "Past HT user", "Current HT user"], "labelExpr": "[datum.value, datum.value == 'Never' ? 'n = 103' : datum.value == 'Past HT user' ? 'n = 29' : 'n = 15']"}},
                    "y": {"field": "lo", "type": "quantitative", "scale": {"domain": [-257, 4729], "nice": false, "zero": false}, "axis": null}, "y2": {"field": "hi"}}},
      {"data": {"name": "boxes"}, "transform": [{"filter": "datum.panel == 'B_sCD163'"}], "mark": {"type": "bar", "strokeWidth": 1},
       "encoding": {"x": {"field": "group", "type": "nominal", "title": null}, "y": {"field": "q1", "type": "quantitative", "axis": null}, "y2": {"field": "q3"},
                    "fill": {"field": "group", "type": "nominal", "legend": null, "scale": {"domain": ["Never", "Ever", "Past HT user", "Current HT user"], "range": ["#B49CEC", "#FFA679", "#FFA679", "#7DF0E4"]}},
                    "stroke": {"field": "group", "type": "nominal", "legend": null, "scale": {"domain": ["Never", "Ever", "Past HT user", "Current HT user"], "range": ["#6B5A9C", "#A06848", "#A06848", "#3E9088"]}}}},
      {"data": {"name": "boxes"}, "transform": [{"filter": "datum.panel == 'B_sCD163'"}], "mark": {"type": "bar", "fillOpacity": 0, "stroke": "#000000", "strokeWidth": 1.6},
       "encoding": {"x": {"field": "group", "type": "nominal", "title": null}, "y": {"field": "med", "type": "quantitative", "axis": null}, "y2": {"field": "med"}}},
      {"data": {"name": "outliers"}, "transform": [{"filter": "datum.panel == 'B_sCD163'"}], "mark": {"type": "point", "filled": true, "size": 8, "opacity": 0.85},
       "encoding": {"x": {"field": "group", "type": "nominal", "title": null}, "y": {"field": "value", "type": "quantitative", "axis": null},
                    "color": {"field": "group", "type": "nominal", "legend": null, "scale": {"domain": ["Never", "Ever", "Past HT user", "Current HT user"], "range": ["#8C80BE", "#D9875F", "#D9875F", "#5EC0B6"]}}}},
      {"data": {"name": "brackets"}, "transform": [{"filter": "datum.panel == 'B_sCD163'"}], "mark": {"type": "rule", "color": "#7F7F7F", "strokeWidth": 0.8},
       "encoding": {"x": {"field": "group", "type": "nominal", "title": null}, "x2": {"field": "group2"}, "y": {"field": "y", "type": "quantitative", "axis": null}}},
      {"data": {"name": "brackets"}, "transform": [{"filter": "datum.panel == 'B_sCD163'"}], "mark": {"type": "rule", "color": "#7F7F7F", "strokeWidth": 0.8},
       "encoding": {"x": {"field": "group", "type": "nominal", "title": null}, "y": {"field": "y", "type": "quantitative", "axis": null}, "y2": {"field": "ytip"}}},
      {"data": {"name": "brackets"}, "transform": [{"filter": "datum.panel == 'B_sCD163'"}], "mark": {"type": "rule", "color": "#7F7F7F", "strokeWidth": 0.8},
       "encoding": {"x": {"field": "group2", "type": "nominal", "title": null}, "y": {"field": "y", "type": "quantitative", "axis": null}, "y2": {"field": "ytip"}}},
      {"data": {"name": "brackets"}, "transform": [{"filter": "datum.panel == 'B_sCD163'"}], "mark": {"type": "text", "fontSize": 6.8, "color": "#333333", "baseline": "bottom", "dy": -0.5},
       "encoding": {"x": {"field": "mid", "type": "nominal", "title": null}, "y": {"field": "y", "type": "quantitative", "axis": null}, "text": {"field": "label"}}}
    ]},

    {"width": 1, "height": 35, "data": {"values": []}, "mark": "point", "view": {"stroke": null}},
    {"width": 1, "height": 1, "data": {"values": []}, "mark": "point", "view": {"stroke": null}},
    {"width": 1, "height": 1, "data": {"values": []}, "mark": "point", "view": {"stroke": null}},
    {"width": 1, "height": 1, "data": {"values": []}, "mark": "point", "view": {"stroke": null}},
    {"width": 1, "height": 1, "data": {"values": []}, "mark": "point", "view": {"stroke": null}},

    {"width": 132, "height": 13, "data": {"values": [{"label": "D-dimer"}]}, "mark": {"type": "text", "fontSize": 8.1, "color": "#1A1A1A"}, "encoding": {"text": {"field": "label"}}, "view": {"fill": "#F2F2F2", "stroke": "#333333"}},
    {"width": 1, "height": 1, "data": {"values": []}, "mark": "point", "view": {"stroke": null}},
    {"width": 1, "height": 1, "data": {"values": []}, "mark": "point", "view": {"stroke": null}},
    {"width": 176, "height": 13, "data": {"values": [{"label": "D-dimer"}]}, "mark": {"type": "text", "fontSize": 8.1, "color": "#1A1A1A"}, "encoding": {"text": {"field": "label"}}, "view": {"fill": "#F2F2F2", "stroke": "#333333"}},
    {"width": 1, "height": 1, "data": {"values": []}, "mark": "point", "view": {"stroke": null}},

    {"width": 132, "height": 117, "layer": [
      {"data": {"name": "boxes"}, "transform": [{"filter": "datum.panel == 'A_DD'"}], "mark": {"type": "rule", "color": "#7F7F7F", "strokeWidth": 0.9},
       "encoding": {"x": {"field": "group", "type": "nominal", "title": null, "scale": {"domain": ["Never", "m1", "Ever"], "paddingInner": 0.4, "paddingOuter": 0.9}, "axis": {"values": ["Never", "Ever"], "labelExpr": "[datum.value, datum.value == 'Never' ? 'n = 100' : 'n = 42']"}},
                    "y": {"field": "lo", "type": "quantitative", "title": "Concentration (ng/mL)", "scale": {"type": "log", "domain": [12.94, 23388], "nice": false}, "axis": {"values": [54.59815, 403.4288, 2980.958, 22026.47], "labelOverlap": false, "labelExpr": "datum.value > 20000 ? '22 026.5' : format(datum.value, '.1f')", "titleX": -28, "titleY": 58.5}}, "y2": {"field": "hi"}}},
      {"data": {"name": "boxes"}, "transform": [{"filter": "datum.panel == 'A_DD'"}], "mark": {"type": "bar", "strokeWidth": 1},
       "encoding": {"x": {"field": "group", "type": "nominal", "title": null}, "y": {"field": "q1", "type": "quantitative", "scale": {"type": "log"}}, "y2": {"field": "q3"},
                    "fill": {"field": "group", "type": "nominal", "legend": null, "scale": {"domain": ["Never", "Ever", "Past HT user", "Current HT user"], "range": ["#B49CEC", "#FFA679", "#FFA679", "#7DF0E4"]}},
                    "stroke": {"field": "group", "type": "nominal", "legend": null, "scale": {"domain": ["Never", "Ever", "Past HT user", "Current HT user"], "range": ["#6B5A9C", "#A06848", "#A06848", "#3E9088"]}}}},
      {"data": {"name": "boxes"}, "transform": [{"filter": "datum.panel == 'A_DD'"}], "mark": {"type": "bar", "fillOpacity": 0, "stroke": "#000000", "strokeWidth": 1.6},
       "encoding": {"x": {"field": "group", "type": "nominal", "title": null}, "y": {"field": "med", "type": "quantitative", "scale": {"type": "log"}}, "y2": {"field": "med"}}},
      {"data": {"name": "outliers"}, "transform": [{"filter": "datum.panel == 'A_DD'"}], "mark": {"type": "point", "filled": true, "size": 8, "opacity": 0.85},
       "encoding": {"x": {"field": "group", "type": "nominal", "title": null}, "y": {"field": "value", "type": "quantitative", "scale": {"type": "log"}},
                    "color": {"field": "group", "type": "nominal", "legend": null, "scale": {"domain": ["Never", "Ever", "Past HT user", "Current HT user"], "range": ["#8C80BE", "#D9875F", "#D9875F", "#5EC0B6"]}}}},
      {"data": {"name": "brackets"}, "transform": [{"filter": "datum.panel == 'A_DD'"}], "mark": {"type": "rule", "color": "#7F7F7F", "strokeWidth": 0.8},
       "encoding": {"x": {"field": "group", "type": "nominal", "title": null}, "x2": {"field": "group2"}, "y": {"field": "y", "type": "quantitative", "scale": {"type": "log"}}}},
      {"data": {"name": "brackets"}, "transform": [{"filter": "datum.panel == 'A_DD'"}], "mark": {"type": "rule", "color": "#7F7F7F", "strokeWidth": 0.8},
       "encoding": {"x": {"field": "group", "type": "nominal", "title": null}, "y": {"field": "y", "type": "quantitative", "scale": {"type": "log"}}, "y2": {"field": "ytip"}}},
      {"data": {"name": "brackets"}, "transform": [{"filter": "datum.panel == 'A_DD'"}], "mark": {"type": "rule", "color": "#7F7F7F", "strokeWidth": 0.8},
       "encoding": {"x": {"field": "group2", "type": "nominal", "title": null}, "y": {"field": "y", "type": "quantitative", "scale": {"type": "log"}}, "y2": {"field": "ytip"}}},
      {"data": {"name": "brackets"}, "transform": [{"filter": "datum.panel == 'A_DD'"}], "mark": {"type": "text", "fontSize": 6.8, "color": "#333333", "baseline": "bottom", "dy": -0.5},
       "encoding": {"x": {"field": "mid", "type": "nominal", "title": null}, "y": {"field": "y", "type": "quantitative", "scale": {"type": "log"}}, "text": {"field": "label"}}}
    ]},
    {"width": 1, "height": 1, "data": {"values": []}, "mark": "point", "view": {"stroke": null}},
    {"width": 1, "height": 1, "data": {"values": []}, "mark": "point", "view": {"stroke": null}},
    {"width": 176, "height": 117, "layer": [
      {"data": {"name": "boxes"}, "transform": [{"filter": "datum.panel == 'B_DD'"}], "mark": {"type": "rule", "color": "#7F7F7F", "strokeWidth": 0.9},
       "encoding": {"x": {"field": "group", "type": "nominal", "title": null, "scale": {"domain": ["Never", "m1", "Past HT user", "m2", "Current HT user"], "paddingInner": 0.4, "paddingOuter": 0.9}, "axis": {"values": ["Never", "Past HT user", "Current HT user"], "labelExpr": "[datum.value, datum.value == 'Never' ? 'n = 100' : datum.value == 'Past HT user' ? 'n = 29' : 'n = 13']"}},
                    "y": {"field": "lo", "type": "quantitative", "title": "Concentration (ng/mL)", "scale": {"type": "log", "domain": [12.94, 23388], "nice": false}, "axis": {"values": [54.59815, 403.4288, 2980.958, 22026.47], "labelOverlap": false, "labelExpr": "datum.value > 20000 ? '22 026.5' : format(datum.value, '.1f')", "titleX": -31, "titleY": 58.5}}, "y2": {"field": "hi"}}},
      {"data": {"name": "boxes"}, "transform": [{"filter": "datum.panel == 'B_DD'"}], "mark": {"type": "bar", "strokeWidth": 1},
       "encoding": {"x": {"field": "group", "type": "nominal", "title": null}, "y": {"field": "q1", "type": "quantitative", "scale": {"type": "log"}}, "y2": {"field": "q3"},
                    "fill": {"field": "group", "type": "nominal", "legend": null, "scale": {"domain": ["Never", "Ever", "Past HT user", "Current HT user"], "range": ["#B49CEC", "#FFA679", "#FFA679", "#7DF0E4"]}},
                    "stroke": {"field": "group", "type": "nominal", "legend": null, "scale": {"domain": ["Never", "Ever", "Past HT user", "Current HT user"], "range": ["#6B5A9C", "#A06848", "#A06848", "#3E9088"]}}}},
      {"data": {"name": "boxes"}, "transform": [{"filter": "datum.panel == 'B_DD'"}], "mark": {"type": "bar", "fillOpacity": 0, "stroke": "#000000", "strokeWidth": 1.6},
       "encoding": {"x": {"field": "group", "type": "nominal", "title": null}, "y": {"field": "med", "type": "quantitative", "scale": {"type": "log"}}, "y2": {"field": "med"}}},
      {"data": {"name": "outliers"}, "transform": [{"filter": "datum.panel == 'B_DD'"}], "mark": {"type": "point", "filled": true, "size": 8, "opacity": 0.85},
       "encoding": {"x": {"field": "group", "type": "nominal", "title": null}, "y": {"field": "value", "type": "quantitative", "scale": {"type": "log"}},
                    "color": {"field": "group", "type": "nominal", "legend": null, "scale": {"domain": ["Never", "Ever", "Past HT user", "Current HT user"], "range": ["#8C80BE", "#D9875F", "#D9875F", "#5EC0B6"]}}}},
      {"data": {"name": "brackets"}, "transform": [{"filter": "datum.panel == 'B_DD'"}], "mark": {"type": "rule", "color": "#7F7F7F", "strokeWidth": 0.8},
       "encoding": {"x": {"field": "group", "type": "nominal", "title": null}, "x2": {"field": "group2"}, "y": {"field": "y", "type": "quantitative", "scale": {"type": "log"}}}},
      {"data": {"name": "brackets"}, "transform": [{"filter": "datum.panel == 'B_DD'"}], "mark": {"type": "rule", "color": "#7F7F7F", "strokeWidth": 0.8},
       "encoding": {"x": {"field": "group", "type": "nominal", "title": null}, "y": {"field": "y", "type": "quantitative", "scale": {"type": "log"}}, "y2": {"field": "ytip"}}},
      {"data": {"name": "brackets"}, "transform": [{"filter": "datum.panel == 'B_DD'"}], "mark": {"type": "rule", "color": "#7F7F7F", "strokeWidth": 0.8},
       "encoding": {"x": {"field": "group2", "type": "nominal", "title": null}, "y": {"field": "y", "type": "quantitative", "scale": {"type": "log"}}, "y2": {"field": "ytip"}}},
      {"data": {"name": "brackets"}, "transform": [{"filter": "datum.panel == 'B_DD'"}], "mark": {"type": "text", "fontSize": 6.8, "color": "#333333", "baseline": "bottom", "dy": -0.5},
       "encoding": {"x": {"field": "mid", "type": "nominal", "title": null}, "y": {"field": "y", "type": "quantitative", "scale": {"type": "log"}}, "text": {"field": "label"}}}
    ]},
    {"width": 1, "height": 1, "data": {"values": []}, "mark": "point", "view": {"stroke": null}}
  ]
}
